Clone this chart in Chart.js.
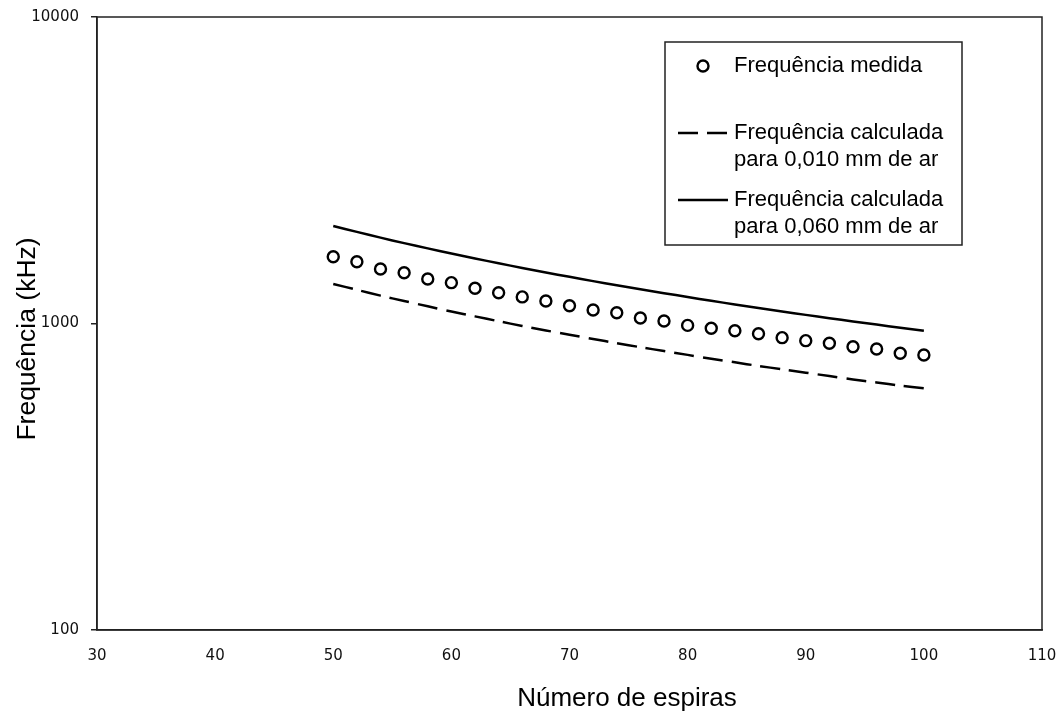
<!DOCTYPE html>
<html lang="pt">
<head>
<meta charset="utf-8">
<title>Frequência vs número de espiras</title>
<script src="https://cdn.jsdelivr.net/npm/chart.js@4/dist/chart.umd.min.js"></script>
<style>
  html, body { margin: 0; padding: 0; background: #fff; }
  #wrap { width: 1062px; height: 715px; }
</style>
</head>
<body>
<div id="wrap"><canvas id="c" width="1062" height="715"></canvas></div>
<script>
// Número de espiras (eixo x)
const espiras = [50, 52, 54, 56, 58, 60, 62, 64, 66, 68, 70, 72, 74, 76, 78, 80, 82, 84, 86, 88, 90, 92, 94, 96, 98, 100];

// Frequência medida (kHz)
const freqMedida = [1652, 1591, 1506, 1464, 1397, 1359, 1303, 1260, 1221, 1184, 1143, 1107, 1084, 1042, 1019, 986, 965, 947, 926, 899, 879, 862, 840, 826, 800, 789];

// Frequência calculada para 0,010 mm de ar (kHz)
const freqCalc010 = [1346, 1288, 1233, 1184, 1138, 1094, 1055, 1017, 982, 949, 919, 890, 863, 837, 813, 790, 767, 747, 727, 709, 691, 674, 657, 642, 627, 615];

// Frequência calculada para 0,060 mm de ar (kHz)
const freqCalc060 = [2080, 1990, 1906, 1829, 1758, 1691, 1630, 1572, 1518, 1467, 1420, 1375, 1333, 1293, 1256, 1220, 1186, 1154, 1124, 1095, 1067, 1041, 1016, 992, 969, 947];

// Marcas dos eixos
const yTicks = [100, 1000, 10000];
const xMin = 30, xMax = 110, xStep = 10;

const xTitle = 'Número de espiras';
const yTitle = 'Frequência (kHz)';

const legendLabels = [
  ['Frequência medida'],
  ['Frequência calculada', 'para 0,010 mm de ar'],
  ['Frequência calculada', 'para 0,060 mm de ar']
];

const toPoints = (xs, ys) => xs.map((x, i) => ({ x: x, y: ys[i] }));

// Moldura completa da área do gráfico
const frame = {
  id: 'frame',
  afterDraw(chart) {
    const { ctx, chartArea: a } = chart;
    ctx.save();
    ctx.strokeStyle = '#222';
    ctx.lineWidth = 1.5;
    ctx.strokeRect(a.left, a.top, a.right - a.left, a.bottom - a.top);
    ctx.restore();
  }
};

// Títulos dos eixos
const axisTitles = {
  id: 'axisTitles',
  afterDraw(chart) {
    const ctx = chart.ctx;
    ctx.save();
    ctx.fillStyle = '#000';
    ctx.textBaseline = 'alphabetic';
    ctx.textAlign = 'center';
    ctx.font = '26px "Liberation Sans", Arial, sans-serif';
    ctx.fillText(xTitle, 627, 706);
    ctx.translate(35, 339);
    ctx.rotate(-Math.PI / 2);
    ctx.font = '26.5px "Liberation Sans", Arial, sans-serif';
    ctx.fillText(yTitle, 0, 0);
    ctx.restore();
  }
};

// Legenda em caixa dentro da área do gráfico
const boxLegend = {
  id: 'boxLegend',
  afterDraw(chart) {
    const ctx = chart.ctx;
    const ds = chart.data.datasets;
    const bx = 665, by = 42, bw = 297, bh = 203;
    ctx.save();
    ctx.fillStyle = '#fff';
    ctx.fillRect(bx, by, bw, bh);
    ctx.strokeStyle = '#222';
    ctx.lineWidth = 1.5;
    ctx.strokeRect(bx, by, bw, bh);

    ctx.font = '22px "Liberation Sans", Arial, sans-serif';
    ctx.textBaseline = 'middle';
    ctx.textAlign = 'left';
    const rows = [66, 133, 200];
    const textX = 734, lineH = 27;
    ds.forEach((d, i) => {
      const y = rows[i];
      if (d.showLine === false) {
        ctx.beginPath();
        ctx.arc(703, y, d.pointRadius, 0, Math.PI * 2);
        ctx.fillStyle = '#fff';
        ctx.fill();
        ctx.lineWidth = d.pointBorderWidth;
        ctx.strokeStyle = d.borderColor;
        ctx.stroke();
      } else {
        ctx.beginPath();
        ctx.setLineDash(d.borderDash || []);
        ctx.lineWidth = d.borderWidth;
        ctx.strokeStyle = d.borderColor;
        ctx.moveTo(678, y);
        ctx.lineTo(728, y);
        ctx.stroke();
        ctx.setLineDash([]);
      }
      ctx.fillStyle = '#000';
      d.legendText.forEach((t, k) => ctx.fillText(t, textX, y + k * lineH));
    });
    ctx.restore();
  }
};

new Chart(document.getElementById('c'), {
  type: 'scatter',
  data: {
    datasets: [
      {
        label: 'Frequência medida',
        legendText: legendLabels[0],
        data: toPoints(espiras, freqMedida),
        showLine: false,
        pointStyle: 'circle',
        pointRadius: 5.5,
        pointBorderWidth: 2.4,
        pointBackgroundColor: '#fff',
        borderColor: '#000',
        backgroundColor: '#fff',
        order: 0
      },
      {
        label: 'Frequência calculada para 0,010 mm de ar',
        legendText: legendLabels[1],
        data: toPoints(espiras, freqCalc010),
        showLine: true,
        pointRadius: 0,
        borderColor: '#000',
        borderWidth: 2.5,
        borderDash: [20, 9],
        tension: 0.3,
        order: 1
      },
      {
        label: 'Frequência calculada para 0,060 mm de ar',
        legendText: legendLabels[2],
        data: toPoints(espiras, freqCalc060),
        showLine: true,
        pointRadius: 0,
        borderColor: '#000',
        borderWidth: 2.5,
        tension: 0.3,
        order: 2
      }
    ]
  },
  options: {
    responsive: false,
    animation: false,
    layout: { padding: { top: 17, right: 20, left: 0, bottom: 0 } },
    plugins: {
      legend: { display: false },
      tooltip: { enabled: false }
    },
    scales: {
      x: {
        type: 'linear',
        min: xMin,
        max: xMax,
        ticks: {
          stepSize: xStep,
          color: '#111',
          font: { family: '"DejaVu Sans", Verdana, sans-serif', size: 15 },
          padding: 17,
          maxRotation: 0
        },
        grid: { display: false, drawTicks: false },
        border: { display: true, color: '#222', width: 1.5 },
        title: { display: false },
        afterFit(scale) {
          scale.height = 85;
          scale.paddingLeft = 0;
          scale.paddingRight = 0;
        }
      },
      y: {
        type: 'logarithmic',
        min: yTicks[0],
        max: yTicks[yTicks.length - 1],
        afterBuildTicks(scale) { scale.ticks = yTicks.map(v => ({ value: v, major: true })); },
        ticks: {
          color: '#111',
          font: { family: '"DejaVu Sans", Verdana, sans-serif', size: 15 },
          padding: 12,
          callback: v => String(v)
        },
        grid: { display: true, drawOnChartArea: false, drawTicks: true, tickLength: 6, color: '#222', lineWidth: 1.5 },
        border: { display: true, color: '#222', width: 1.5 },
        title: { display: false },
        afterFit(scale) {
          scale.width = 97;
          scale.paddingTop = 0;
          scale.paddingBottom = 0;
        }
      }
    }
  },
  plugins: [frame, axisTitles, boxLegend]
});
</script>
</body>
</html>
